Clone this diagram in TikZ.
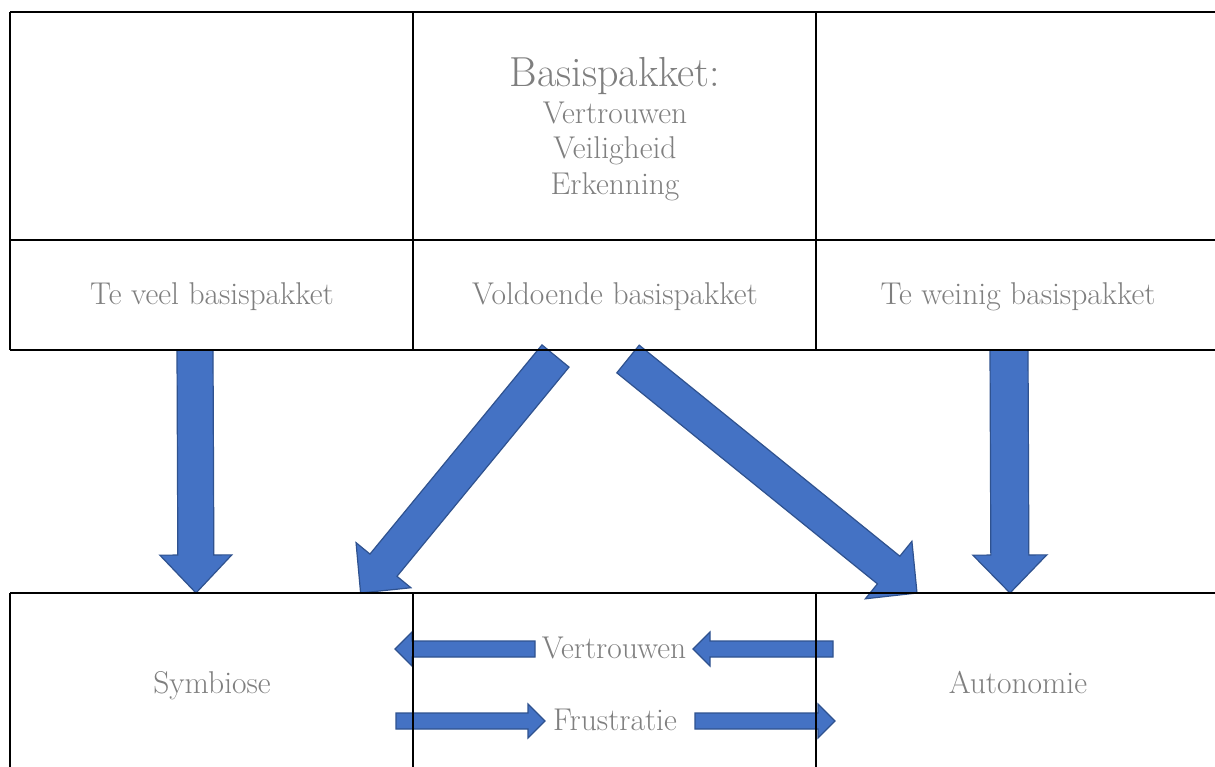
\documentclass[tikz,border=0pt]{standalone}
\usepackage{tikz}
\usetikzlibrary{calc}

\definecolor{txtgray}{RGB}{127,127,127}
\definecolor{arrowblue}{RGB}{68,114,196}
\definecolor{arrowedge}{RGB}{47,82,143}

\tikzset{
	cell/.style={line width=1.8pt, draw=black},
	txt/.style={anchor=base, text=txtgray, inner sep=0pt, font=\fontsize{31.5}{38}\selectfont},
	title/.style={txt, font=\fontsize{42}{50}\selectfont},
	arrowfill/.style={fill=arrowblue, draw=arrowedge, line width=1.2pt, line join=miter}
}

% block arrow: from, to, shaft half width, head half width, head length
\newcommand{\blockarrow}[5]{%
	\coordinate (hb) at ($(#2)!#5!(#1)$);
	\filldraw[arrowfill] ($(#1)!#3!90:(#2)$) -- ($(hb)!#3!90:(#2)$) -- ($(hb)!#4!90:(#2)$)
		-- (#2) -- ($(hb)!#4!-90:(#2)$) -- ($(hb)!#3!-90:(#2)$) -- ($(#1)!#3!-90:(#2)$) -- cycle;
}

\begin{document}
\begin{tikzpicture}[x=1pt, y=-1pt]

	\useasboundingbox[fill=white] (0,0) rectangle (1215,767);

	% texts
	\node (basis) at (615, 87) [title] {Basispakket:};
	\node (vertrouwenA) at (615,124) [txt] {Vertrouwen};
	\node (veiligheid) at (615,159) [txt] {Veiligheid};
	\node (erkenning) at (615,195) [txt] {Erkenning};

	\node (veel) at (212,305) [txt] {Te veel basispakket};
	\node (voldoende) at (615,305) [txt] {Voldoende basispakket};
	\node (weinig) at (1018,305) [txt] {Te weinig basispakket};

	\node (symbiose) at (212,693) [txt] {Symbiose};
	\node (autonomie) at (1018,693) [txt] {Autonomie};
	\node (vertrouwen) at (614,658) [txt] {Vertrouwen};
	\node (frustratie) at (615,730) [txt] {Frustratie};

	% arrow ends
	\coordinate (veelS) at (195,350);
	\coordinate (veelE) at (196,593);
	\coordinate (weinigS) at (1009,350);
	\coordinate (weinigE) at (1010,593);
	\coordinate (linksS) at (555.5,356);
	\coordinate (linksE) at (360.6,593);
	\coordinate (rechtsS) at (628,359);
	\coordinate (rechtsE) at (917,593);

	\coordinate (vertAS) at (535,649);
	\coordinate (vertAE) at (395,649);
	\coordinate (vertBS) at (833,649);
	\coordinate (vertBE) at (693,649);
	\coordinate (frusAS) at (396,721);
	\coordinate (frusAE) at (545,721);
	\coordinate (frusBS) at (695,721);
	\coordinate (frusBE) at (835,721);

	\blockarrow{veelS}{veelE}{18pt}{36pt}{38pt}
	\blockarrow{weinigS}{weinigE}{19pt}{37pt}{38pt}
	\blockarrow{linksS}{linksE}{17.5pt}{35.5pt}{36pt}
	\blockarrow{rechtsS}{rechtsE}{17.8pt}{37pt}{36.5pt}

	\blockarrow{vertAS}{vertAE}{8pt}{17pt}{17pt}
	\blockarrow{vertBS}{vertBE}{8pt}{17pt}{17pt}
	\blockarrow{frusAS}{frusAE}{8pt}{17pt}{17pt}
	\blockarrow{frusBS}{frusBE}{8pt}{17pt}{17pt}

	% table lines
	\draw[cell] (10,12) -- (1215,12);
	\draw[cell] (10,240) -- (1215,240);
	\draw[cell] (10,350) -- (1215,350);
	\draw[cell] (10,593) -- (1215,593);
	\foreach \x in {10,413,816} {
		\draw[cell] (\x,12) -- (\x,350);
		\draw[cell] (\x,593) -- (\x,767);
	}

\end{tikzpicture}
\end{document}
